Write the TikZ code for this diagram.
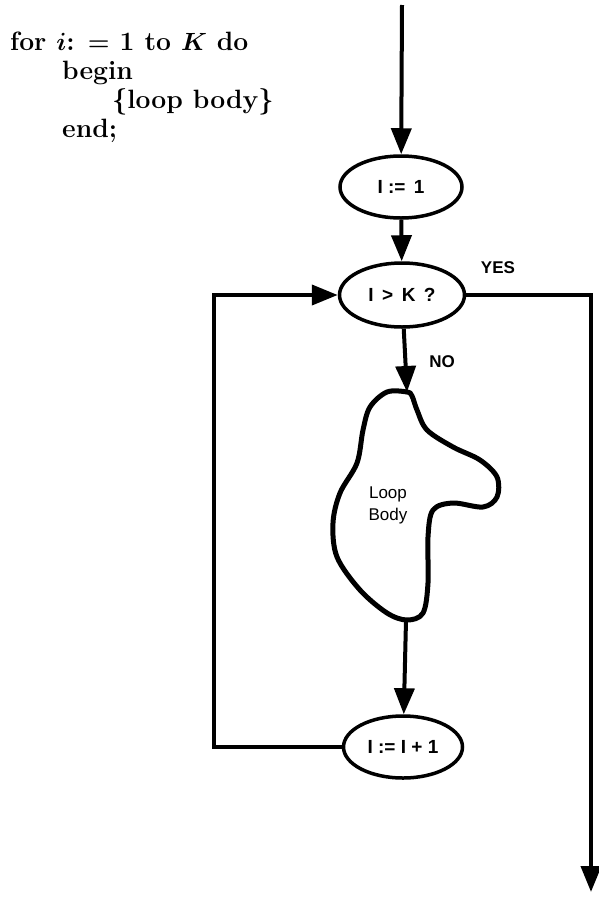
\documentclass[tikz,border=0pt]{standalone}
\usepackage{fontspec}
\newfontfamily\flowfont{Liberation Sans}
\usetikzlibrary{shapes.geometric,arrows.meta}
\begin{document}
\begin{tikzpicture}[x=1pt,y=-1pt,
  flow/.style={line width=4pt},
  tip/.style={-{Triangle[width=20pt,length=26pt]}},
  oval/.style={ellipse, draw, line width=3.5pt, minimum width=122pt,
    minimum height=62pt, inner sep=0pt,
    font=\flowfont\bfseries\fontsize{19}{22}\selectfont},
  lbl/.style={font=\flowfont\bfseries\fontsize{17}{19}\selectfont},
  code/.style={anchor=base west, inner sep=0pt, font=\bfseries\boldmath\fontsize{26.5}{32}\selectfont}]
\useasboundingbox (0,0) rectangle (598,897);

% pseudo-code of the for loop
\node[code] (l1) at (10,50) {for $i$: $=$ 1 to $K$ do};
\node[code] (l2) at (62,79) {begin};
\node[code] (l3) at (112,108) {\{loop body\}};
\node[code] (l4) at (62,137) {end;};

% flowchart boxes
\node[oval] (init) at (401,187) {I :=\, 1};
\node[oval, minimum width=125pt, minimum height=64pt] (test) at (402,295) {I\, >\, K\, ?};
\node[oval, minimum width=119pt] (incr) at (403,747) {I := I + 1};

% loop body blob
\coordinate (bodytop) at (407,392);
\coordinate (bodybot) at (406,620);
\draw[line width=5pt, line join=round] plot[smooth cycle, tension=0.55] coordinates {
  (407,392) (387,392) (370,407) (363,430) (357,463) (340,493) (333,523)
  (337,557) (360,590) (387,613) (407,620) (423,613) (428,583) (428,537)
  (433,510) (453,503) (483,507) (497,497) (497,477) (480,460) (453,447)
  (427,430) (417,410) (412,396)};
\node[font=\flowfont\fontsize{17}{22}\selectfont, align=center] (body) at (388,505) {Loop\\Body};

% connectors
\coordinate (entry) at (402,5);
\coordinate (exit) at (591,892);
\coordinate (back) at (214,747);
\draw[flow,tip] (entry) -- (init);
\draw[flow,tip] (init) -- (test);
\draw[flow,tip] (test) -- (bodytop);
\draw[flow,tip] (bodybot) -- (incr);
\draw[flow,tip] (test.east) -| (exit);
\draw[flow,tip] (incr.west) -- (back) |- (test.west);

% branch labels
\node[lbl] (yes) at (498,268) {YES};
\node[lbl] (no) at (442,362) {NO};
\end{tikzpicture}
\end{document}
